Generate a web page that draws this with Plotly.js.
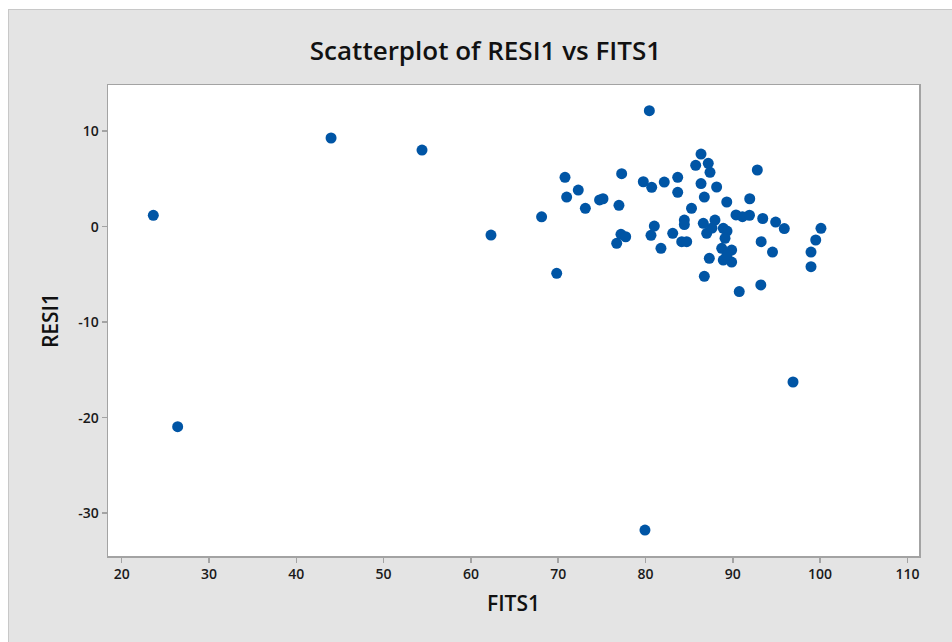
<!DOCTYPE html>
<html>
<head>
<meta charset="utf-8">
<script src="https://cdn.plot.ly/plotly-3.0.1.min.js"></script>
<style>
  html, body { margin: 0; padding: 0; background: #ffffff; overflow: hidden; }
  #frame { position: absolute; left: 8px; top: 9px; width: 943px; height: 632px;
           border-left: 1px solid #c8c8c8; border-top: 1px solid #c8c8c8; background: #e4e4e4; }
  #chart { width: 943px; height: 632px; }
</style>
</head>
<body>
<div id="frame"><div id="chart"></div></div>
<script>
// FITS1 (fitted values) and RESI1 (residuals)
const fits1 = [
  23.62, 26.41, 43.98, 54.40, 62.30, 68.10, 69.83, 79.94, 96.90,
  80.44, 86.36, 85.75, 87.19, 87.39, 92.81, 70.78, 77.27, 72.30, 70.97,
  79.75, 80.71, 82.15, 83.69, 83.69, 86.36, 88.15, 86.74, 73.11, 74.74,
  75.13, 76.96, 89.31, 91.94, 85.27, 84.45, 84.45, 90.37, 91.11, 91.91,
  93.43, 94.91, 95.90, 100.10, 99.50, 98.96, 98.96, 81.01, 80.63, 83.12,
  77.19, 77.73, 76.70, 81.77, 84.15, 84.72, 93.25, 94.55, 87.31, 86.74,
  90.74, 93.21, 86.62, 87.96, 87.01, 87.62, 88.91, 89.34, 89.11, 88.73,
  89.87, 88.91, 89.87, 89.34
];
const resi1 = [
  1.19, -20.94, 9.29, 8.03, -0.87, 1.04, -4.88, -31.76, -16.26,
  12.15, 7.61, 6.43, 6.64, 5.70, 5.94, 5.17, 5.55, 3.84, 3.11,
  4.71, 4.13, 4.68, 5.17, 3.60, 4.52, 4.16, 3.11, 1.93, 2.80,
  2.93, 2.24, 2.59, 2.93, 1.93, 0.70, 0.23, 1.23, 1.05, 1.20,
  0.86, 0.49, -0.19, -0.17, -1.39, -2.65, -4.19, 0.07, -0.90, -0.69,
  -0.80, -1.05, -1.74, -2.26, -1.57, -1.57, -1.57, -2.65, -3.31, -5.19,
  -6.79, -6.10, 0.36, 0.70, -0.69, -0.14, -0.17, -0.45, -1.21, -2.26,
  -2.44, -3.49, -3.70, -2.96
];
const xTicks = [20, 30, 40, 50, 60, 70, 80, 90, 100, 110];
const xTickText = ['20', '30', '40', '50', '60', '70', '80', '90', '100', '110'];
const yTicks = [10, 0, -10, -20, -30];
const yTickText = ['10', '0', '-10', '-20', '-30'];

const FONT = '"Open Sans", "Noto Sans", sans-serif';

const trace = {
  type: 'scatter',
  mode: 'markers',
  x: fits1,
  y: resi1,
  marker: { color: '#0055a5', size: 11, line: { width: 0 } },
  hoverinfo: 'x+y'
};

const axisCommon = {
  showline: true, mirror: true, linecolor: '#a3a3a3', linewidth: 1.5,
  ticks: 'outside', ticklen: 5, tickwidth: 1.5, tickcolor: '#a3a3a3',
  showgrid: false, zeroline: false,
  tickfont: { family: FONT, size: 14, color: '#1a1a1a', weight: 600 }
};

const layout = {
  width: 943, height: 632,
  paper_bgcolor: '#e4e4e4',
  plot_bgcolor: '#ffffff',
  margin: { l: 99, r: 33, t: 75, b: 86 },
  showlegend: false,
  title: {
    text: 'Scatterplot of RESI1 vs FITS1',
    font: { family: FONT, size: 26, color: '#111111', weight: 600 },
    xref: 'container', x: 0.5053, xanchor: 'center',
    yref: 'container', y: 0.935, yanchor: 'middle'
  },
  xaxis: Object.assign({}, axisCommon, {
    range: [18.43, 111.33],
    tickvals: xTicks,
    ticktext: xTickText,
    title: { text: 'FITS1', font: { family: FONT, size: 21, color: '#111111', weight: 600 }, standoff: 14 }
  }),
  yaxis: Object.assign({}, axisCommon, {
    range: [-34.48, 14.84],
    tickvals: yTicks,
    ticktext: yTickText,
    title: { text: 'RESI1', font: { family: FONT, size: 21, color: '#111111', weight: 600 }, standoff: 14 }
  })
};

Plotly.newPlot('chart', [trace], layout, { displayModeBar: false, staticPlot: true });
</script>
</body>
</html>
